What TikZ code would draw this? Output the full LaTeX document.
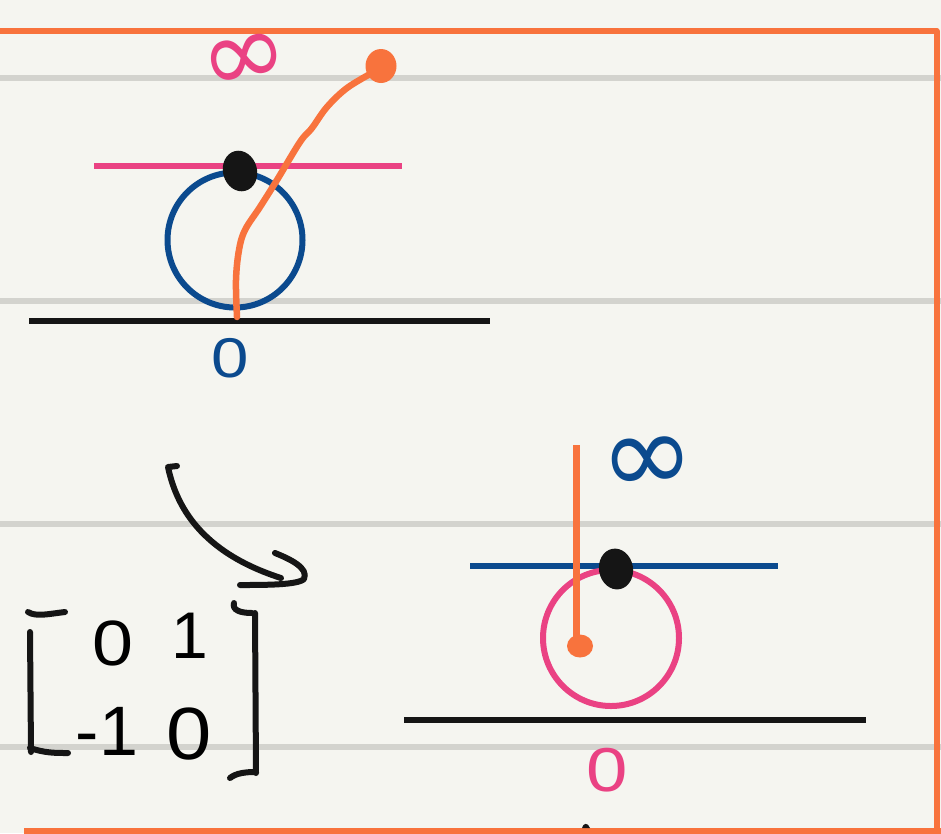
\documentclass[tikz,border=0pt]{standalone}
\usepackage{fontspec}
\setmainfont{Liberation Sans}
\newfontfamily\symfont{DejaVu Sans}
\usetikzlibrary{shapes.geometric}
\definecolor{paper}{HTML}{F5F5F0}
\definecolor{rulegray}{HTML}{D3D3CE}
\definecolor{orng}{HTML}{F8733D}
\definecolor{pnk}{HTML}{EA4283}
\definecolor{blu}{HTML}{0B4A8E}
\definecolor{ink}{HTML}{151515}
\tikzset{
  ruleline/.style={rulegray, line width=6},
  border/.style={orng, line width=6},
  stroke/.style={line width=6, line cap=round, line join=round},
  blob/.style={ellipse, inner sep=0pt},
  label/.style={inner sep=0pt},
}
\begin{document}
\begin{tikzpicture}[x=1pt,y=-1pt]
\useasboundingbox (0,0) rectangle (941,833);
\fill[paper] (0,0) rectangle (941,833);
% ruled paper lines
\foreach \yy in {78,301,523.5,746.5} \draw[ruleline] (0,\yy) -- (941,\yy);
% orange frame
\draw[border, line join=round] (0,31) -- (936.5,31) -- (936.5,833);
\draw[border] (24,830.5) -- (941,830.5);
% tiny mark at bottom
\fill[ink] (582,828) .. controls (583,823) and (588,822) .. (590,828) -- cycle;

% ===== top figure =====
\coordinate (tl1) at (94,166); \coordinate (tl2) at (402,166);
\draw[stroke, pnk, line cap=butt] (tl1) -- (tl2);
\node[draw=blu, circle, line width=6, minimum size=135, inner sep=0pt] (c1) at (235,240) {};
\coordinate (bl1) at (29,320.5); \coordinate (bl2) at (490,320.5);
\draw[stroke, ink, line cap=butt] (bl1) -- (bl2);
\node[blob, fill=ink, minimum width=34, minimum height=41, rotate=15] (d1) at (240,171) {};
\node[blob, fill=orng, minimum width=31, minimum height=34] (od1) at (381,66) {};
\coordinate (ostart) at (237,317);
\draw[stroke, orng, line width=6.5] plot[smooth, tension=0.6] coordinates {(237,317) (236,280) (239,250) (245,230) (260,207) (277,180) (300,142) (312,128) (327,107) (347,88) (372,73)};
\node[label, text=pnk, font=\symfont\fontsize{106}{106}\selectfont, rotate=12] (inf1) at (245,63) {∞};
\node[label, text=blu, font=\fontsize{56}{56}\selectfont, xscale=1.2] (z1) at (230,358) {0};

% ===== arrow =====
\coordinate (a0) at (177,466);
\coordinate (a1) at (168,467);
\coordinate (a2) at (281,578);
\draw[stroke, ink] (a0) -- (a1) .. controls (176,505) and (200,552) .. (a2);
\coordinate (h1) at (240,585);
\coordinate (h2) at (304,579);
\coordinate (h3) at (275,553);
\draw[stroke, ink] (h1) .. controls (265,585) and (298,585) .. (h2) .. controls (309,568) and (290,559) .. (h3);

% ===== matrix =====
\draw[stroke, ink] (28,612) .. controls (36,617) and (48,614) .. (65,612);
\draw[stroke, ink] (30,632) -- (31,752);
\draw[stroke, ink] (30,748) .. controls (45,753) and (55,753) .. (68,753);
\draw[stroke, ink] (234,603) .. controls (232,610) and (240,613) .. (252,613);
\draw[stroke, ink] (255,613) -- (256,773);
\draw[stroke, ink] (230,778) .. controls (236,773) and (246,772) .. (255,772);
\node[label, font=\fontsize{64}{64}\selectfont, xscale=1.15] (m11) at (113,643) {0};
\node[label, font=\fontsize{66}{66}\selectfont] (m12) at (190,636) {1};
\node[label, font=\fontsize{70}{70}\selectfont] (m21) at (107,731) {-1};
\node[label, font=\fontsize{74}{74}\selectfont, xscale=1.1] (m22) at (189,734) {0};

% ===== bottom figure =====
\coordinate (bt1) at (470,565.5); \coordinate (bt2) at (778,565.5);
\draw[stroke, blu, line cap=butt] (bt1) -- (bt2);
\node[draw=pnk, circle, line width=6, minimum size=136, inner sep=0pt] (c2) at (611,638) {};
\coordinate (bb1) at (404,719.5); \coordinate (bb2) at (866,719.5);
\draw[stroke, ink, line cap=butt] (bb1) -- (bb2);
\node[blob, fill=ink, minimum width=34, minimum height=41, rotate=10] (d2) at (616,569) {};
\coordinate (ov1) at (576.5,445);
\node[blob, fill=orng, minimum width=26, minimum height=23] (od2) at (580,646) {};
\draw[orng, line width=6.5] (ov1) -- (576.5,640);
\node[label, text=blu, font=\symfont\fontsize{114}{114}\selectfont, rotate=4] (inf2) at (648,465) {∞};
\node[label, text=pnk, font=\fontsize{62}{62}\selectfont, xscale=1.2] (z2) at (607,770) {0};
\end{tikzpicture}
\end{document}
